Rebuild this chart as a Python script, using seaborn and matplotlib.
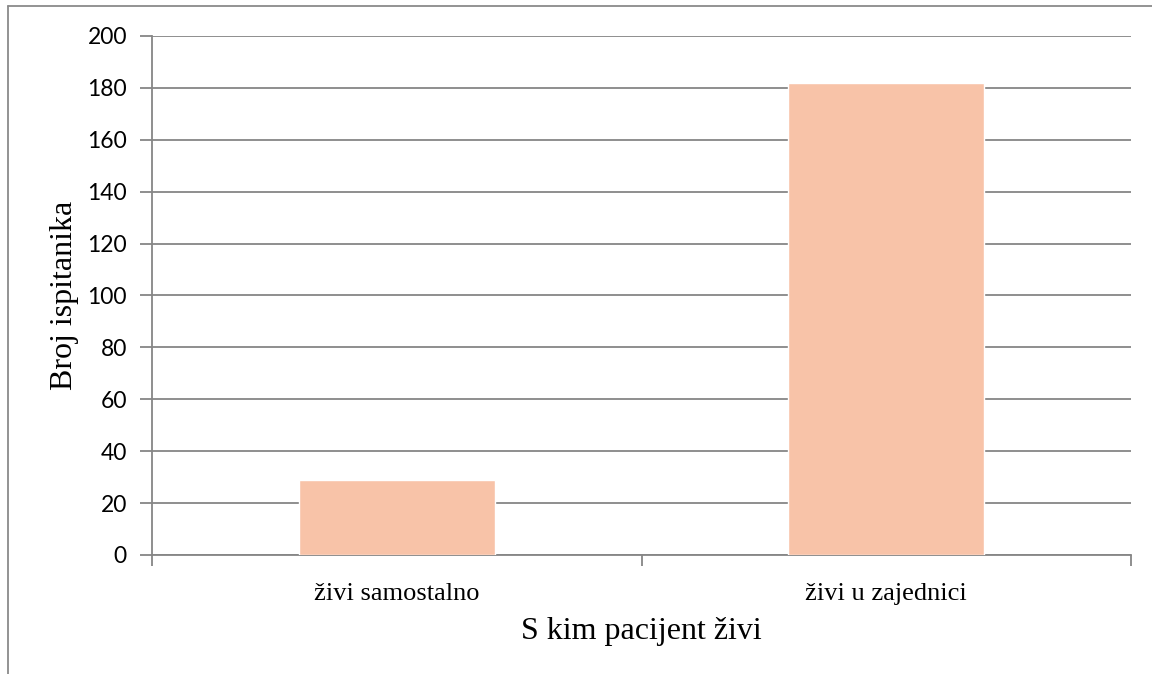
import matplotlib
matplotlib.use("Agg")
import matplotlib.pyplot as plt
import seaborn as sns
import pandas as pd
from matplotlib.lines import Line2D

categories = ["živi samostalno", "živi u zajednici"]
values = [29, 182]
y_ticks = [0, 20, 40, 60, 80, 100, 120, 140, 160, 180, 200]

df = pd.DataFrame({"cat": categories, "val": values})

sns.set_theme(style="white")
fig = plt.figure(figsize=(11.52, 6.74), dpi=100)
ax = fig.add_axes([0.1319, 0.1766, 0.8500, 0.7700])

sns.barplot(data=df, x="cat", y="val", color="#F8C3A8", saturation=1, width=0.4, ax=ax, zorder=3)

ax.set_ylim(0, 200)
ax.set_xlim(-0.5, 1.5)
ax.set_yticks(y_ticks)
ax.yaxis.grid(True, color="#868686", linewidth=1.3, zorder=0)
ax.set_axisbelow(True)
for s in ["top", "right"]:
    ax.spines[s].set_visible(False)
for s in ["left", "bottom"]:
    ax.spines[s].set_color("#868686")
    ax.spines[s].set_linewidth(1.3)

ax.set_xticks([0, 1])
ax.set_xticklabels(categories, family="Liberation Serif", fontsize=19, color="black")
ax.tick_params(axis="x", length=0, pad=20)
ax.set_xticks([-0.5, 0.5, 1.5], minor=True)
ax.tick_params(axis="x", which="minor", length=8, color="#868686", width=1.3, direction="out", bottom=True)
ax.tick_params(axis="y", length=9, color="#868686", width=1.3, direction="out", left=True, pad=9)
for lab in ax.get_yticklabels():
    lab.set_family("Lato")
    lab.set_fontsize(16.5)
    lab.set_color("black")

ax.set_xlabel("S kim pacijent živi", family="Liberation Serif", fontsize=23, labelpad=9, color="black")
ax.set_ylabel("Broj ispitanika", family="Liberation Serif", fontsize=23, labelpad=6, color="black")

fig.add_artist(Line2D([8/1152, 1], [1-6/674, 1-6/674], color="#8a8a8a", linewidth=1.3, transform=fig.transFigure))
fig.add_artist(Line2D([8/1152, 8/1152], [0, 1-6/674], color="#8a8a8a", linewidth=1.3, transform=fig.transFigure))

fig.savefig("out.png", dpi=100, facecolor="white")
